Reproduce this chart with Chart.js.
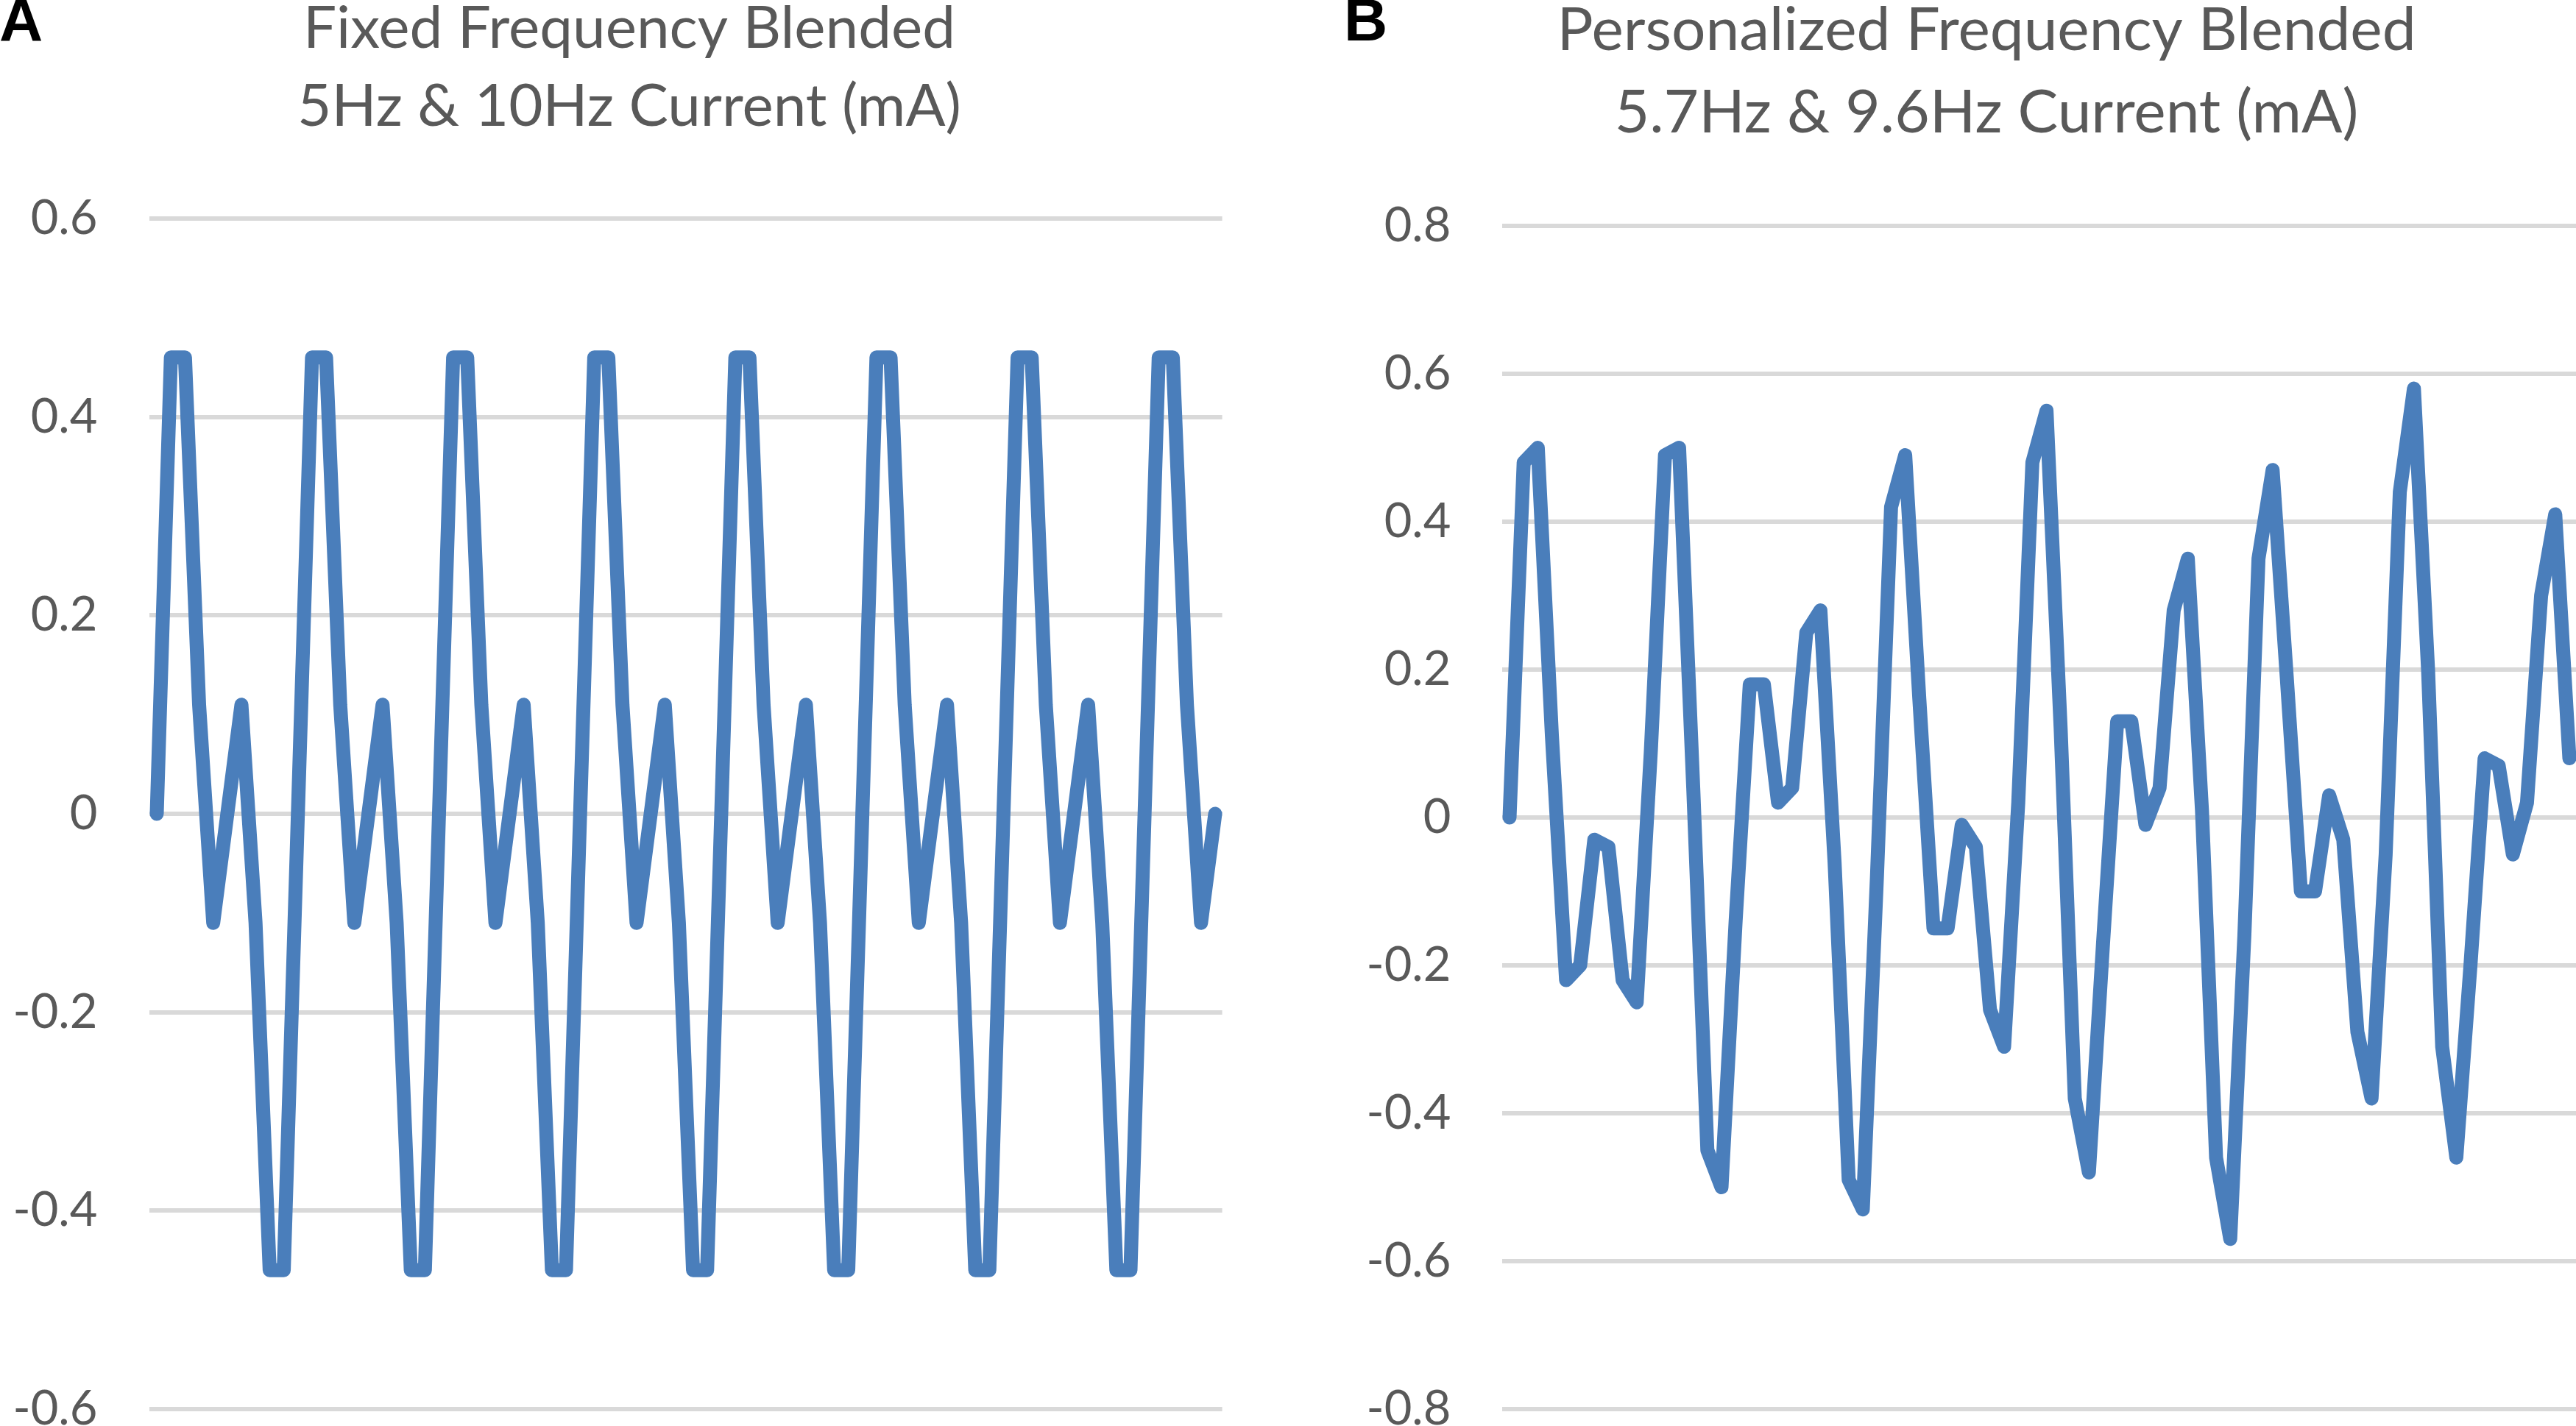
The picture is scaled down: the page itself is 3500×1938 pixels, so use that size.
<!DOCTYPE html>
<html>
<head>
<meta charset="utf-8">
<title>Blended Frequency Current</title>
<script src="https://cdn.jsdelivr.net/npm/chart.js@4.4.1/dist/chart.umd.min.js"></script>
<style>
  html, body { margin: 0; padding: 0; background: #fff; overflow: hidden; }
  body { width: 3500px; height: 1938px; position: relative; }
  canvas { position: absolute; top: 0; }
  #chartA { left: 0; }
  #chartB { left: 1760px; }
</style>
</head>
<body>
<canvas id="chartA" width="1760" height="1938"></canvas>
<canvas id="chartB" width="1745" height="1938"></canvas>
<script>
// Current samples (mA), one per sample step
const currentFixed = [
    0, 0.46, 0.46, 0.11, -0.11, 0, 0.11, -0.11, -0.46, -0.46,
    0, 0.46, 0.46, 0.11, -0.11, 0, 0.11, -0.11, -0.46, -0.46,
    0, 0.46, 0.46, 0.11, -0.11, 0, 0.11, -0.11, -0.46, -0.46,
    0, 0.46, 0.46, 0.11, -0.11, 0, 0.11, -0.11, -0.46, -0.46,
    0, 0.46, 0.46, 0.11, -0.11, 0, 0.11, -0.11, -0.46, -0.46,
    0, 0.46, 0.46, 0.11, -0.11, 0, 0.11, -0.11, -0.46, -0.46,
    0, 0.46, 0.46, 0.11, -0.11, 0, 0.11, -0.11, -0.46, -0.46,
    0, 0.46, 0.46, 0.11, -0.11, 0
];

const currentPersonal = [
    0, 0.48, 0.50, 0.11, -0.22, -0.20, -0.03, -0.04, -0.22, -0.25,
    0.09, 0.49, 0.50, 0.04, -0.45, -0.50, -0.14, 0.18, 0.18, 0.02,
    0.04, 0.25, 0.28, -0.06, -0.49, -0.53, -0.08, 0.42, 0.49, 0.16,
    -0.15, -0.15, -0.01, -0.04, -0.26, -0.31, 0.02, 0.48, 0.55, 0.12,
    -0.38, -0.48, -0.17, 0.13, 0.13, -0.01, 0.04, 0.28, 0.35, 0.01,
    -0.46, -0.57, -0.16, 0.35, 0.47, 0.19, -0.10, -0.10, 0.03, -0.03,
    -0.29, -0.38, -0.05, 0.44, 0.58, 0.20, -0.31, -0.46, -0.20, 0.08,
    0.07, -0.05, 0.02, 0.30, 0.41, 0.08
];

const ticksFixed = [-0.6, -0.4, -0.2, 0, 0.2, 0.4, 0.6];
const ticksPersonal = [-0.8, -0.6, -0.4, -0.2, 0, 0.2, 0.4, 0.6, 0.8];

const titleFixed = ["Fixed Frequency Blended", "5Hz & 10Hz Current (mA)"];
const titlePersonal = ["Personalized Frequency Blended", "5.7Hz & 9.6Hz Current (mA)"];

// x axis is just the sample number
const sampleIndex = currentFixed.map((_, i) => i);

const LINE_BLUE = "#4A7EBB";
const GRID_GREY = "#D9D9D9";
const TEXT_GREY = "#595959";

/**
 * Panel letter + two line title, drawn on top of the chart
 */
const panelText = {
    id: "panelText",
    afterDraw(chart, args, opts) {
        const ctx = chart.ctx;
        ctx.save();
        ctx.textBaseline = "alphabetic";

        ctx.fillStyle = "#000";
        ctx.font = "bold 82px 'Liberation Sans', Arial, sans-serif";
        ctx.textAlign = "left";
        ctx.fillText(opts.letter, opts.letterX, 55);

        ctx.fillStyle = TEXT_GREY;
        ctx.font = opts.size + "px Lato, sans-serif";
        ctx.textAlign = "center";
        opts.lines.forEach((line, i) => ctx.fillText(line, opts.centerX, opts.baselines[i]));
        ctx.restore();
    }
};

function makePanel(id, values, yTicks, cfg) {
    return new Chart(document.getElementById(id), {
        type: "line",
        data: {
            labels: sampleIndex,
            datasets: [{
                data: values,
                borderColor: LINE_BLUE,
                borderWidth: 19,
                borderJoinStyle: "round",
                borderCapStyle: "round",
                pointRadius: 0,
                tension: 0,
                fill: false
            }]
        },
        options: {
            responsive: false,
            animation: false,
            devicePixelRatio: 1,
            layout: { padding: { left: 0, right: cfg.padRight, top: cfg.top, bottom: 23 } },
            plugins: {
                legend: { display: false },
                tooltip: { enabled: false },
                title: { display: false },
                panelText: cfg.text
            },
            scales: {
                x: { type: "category", offset: true, display: false },
                y: {
                    min: yTicks[0],
                    max: yTicks[yTicks.length - 1],
                    afterBuildTicks: s => { s.ticks = yTicks.map(v => ({ value: v })); },
                    afterFit: s => { s.width = cfg.axisWidth; },
                    // invisible tick marks push the labels away from the plot
                    // (ticks.padding would also pad the top/bottom of the axis)
                    grid: {
                        color: GRID_GREY, lineWidth: 6,
                        drawTicks: true, tickLength: cfg.tickPad, tickColor: "rgba(0,0,0,0)"
                    },
                    border: { display: false },
                    ticks: {
                        color: TEXT_GREY,
                        padding: 0,
                        font: { family: "Lato", size: 65, lineHeight: 0.5 },
                        callback: v => String(Number(Number(v).toFixed(1)))
                    }
                }
            }
        },
        plugins: [panelText]
    });
}

makePanel("chartA", currentFixed, ticksFixed, {
    padRight: 99.4, top: 297, axisWidth: 203.4, tickPad: 71,
    text: { letter: "A", letterX: -1, centerX: 855, baselines: [65, 171], size: 80, lines: titleFixed }
});

makePanel("chartB", currentPersonal, ticksPersonal, {
    padRight: 4.4, top: 307, axisWidth: 281.4, tickPad: 70,
    text: { letter: "B", letterX: 66, centerX: 939, baselines: [68, 180], size: 82, lines: titlePersonal }
});
</script>
</body>
</html>
